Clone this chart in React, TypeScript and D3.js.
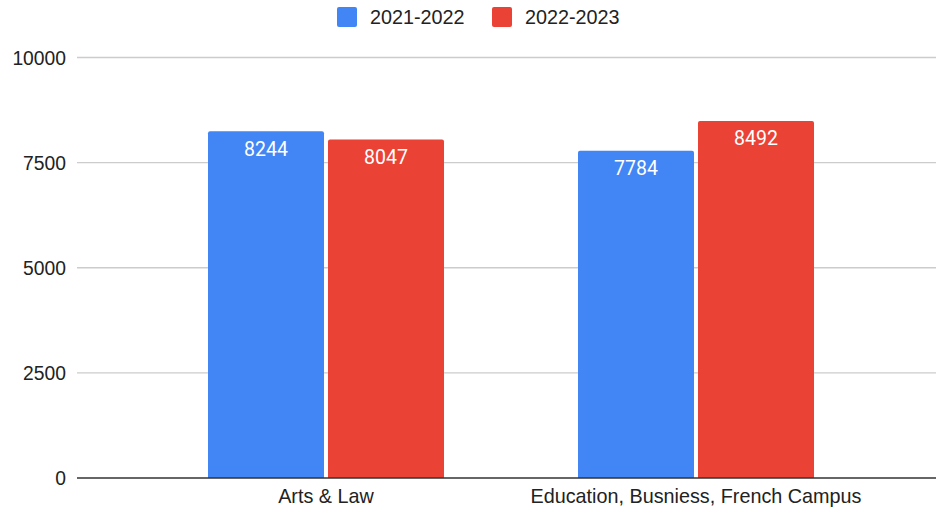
import React from "react";
import * as d3 from "d3";

const categories = ["Arts & Law", "Education, Busniess, French Campus"];
const seriesNames = ["2021-2022", "2022-2023"];
const series2122 = [8244, 7784];
const series2223 = [8047, 8492];
const yTicks = [0, 2500, 5000, 7500, 10000];
const colors = ["#4285f4", "#ea4335"];

export default function App() {
  const W = 936;
  const H = 510;
  const plotLeft = 77;
  const plotRight = 936;
  const y = d3.scaleLinear().domain([0, 10000]).range([478, 57.5]);
  const x0 = d3.scaleBand<string>().domain(categories).range([141, 881]).padding(0);
  const groupW = 236;
  const x1 = d3
    .scaleBand<string>()
    .domain(seriesNames)
    .range([0, groupW])
    .paddingInner(4 / 120)
    .paddingOuter(0);
  const values = [series2122, series2223];
  const axisFont = "'Liberation Sans', Arial, sans-serif";

  return (
    <svg width={W} height={H} style={{ display: "block", position: "absolute", left: 0, top: 0 }}>
      <rect x={0} y={0} width={W} height={H} fill="#fff" />
      {/* legend */}
      <g fontFamily={axisFont} fontSize={19.8} fill="#222">
        <rect x={337} y={7} width={20} height={20} rx={2} fill={colors[0]} />
        <text x={370} y={24}>{seriesNames[0]}</text>
        <rect x={492} y={7} width={20} height={20} rx={2} fill={colors[1]} />
        <text x={525} y={24}>{seriesNames[1]}</text>
      </g>
      {/* gridlines */}
      {yTicks.filter((t) => t !== 0).map((t) => (
        <line key={t} x1={plotLeft} x2={plotRight} y1={y(t)} y2={y(t)} stroke="#cccccc" strokeWidth={1.3} />
      ))}
      {/* y labels */}
      <g fontFamily={axisFont} fontSize={19.3} fill="#222" textAnchor="end">
        {yTicks.map((t) => (
          <text key={t} x={66} y={y(t) + 7}>{t}</text>
        ))}
      </g>
      {/* bars */}
      {categories.map((c, ci) => {
        const cx = (x0(c) as number) + x0.bandwidth() / 2;
        const gx = cx - groupW / 2;
        return (
          <g key={c}>
            {seriesNames.map((s, si) => {
              const v = values[si][ci];
              const bx = gx + (x1(s) as number);
              const bw = x1.bandwidth();
              return (
                <g key={s}>
                  <path
                    d={`M${bx},${y(0)} V${y(v) + 2} Q${bx},${y(v)} ${bx + 2},${y(v)} H${bx + bw - 2} Q${bx + bw},${y(v)} ${bx + bw},${y(v) + 2} V${y(0)} Z`}
                    fill={colors[si]}
                  />
                  <text
                    x={bx + bw / 2}
                    y={y(v) + 24.5}
                    textAnchor="middle"
                    fill="#fff"
                    fontFamily="Roboto, sans-serif"
                    fontSize={19.5}
                  >
                    {v}
                  </text>
                </g>
              );
            })}
          </g>
        );
      })}
      {/* baseline */}
      <line x1={plotLeft} x2={plotRight} y1={y(0)} y2={y(0)} stroke="#333" strokeWidth={1.5} />
      {/* x labels */}
      <g fontFamily={axisFont} fontSize={19.8} fill="#222" textAnchor="middle">
        {categories.map((c) => (
          <text key={c} x={(x0(c) as number) + x0.bandwidth() / 2} y={503}>{c}</text>
        ))}
      </g>
    </svg>
  );
}
